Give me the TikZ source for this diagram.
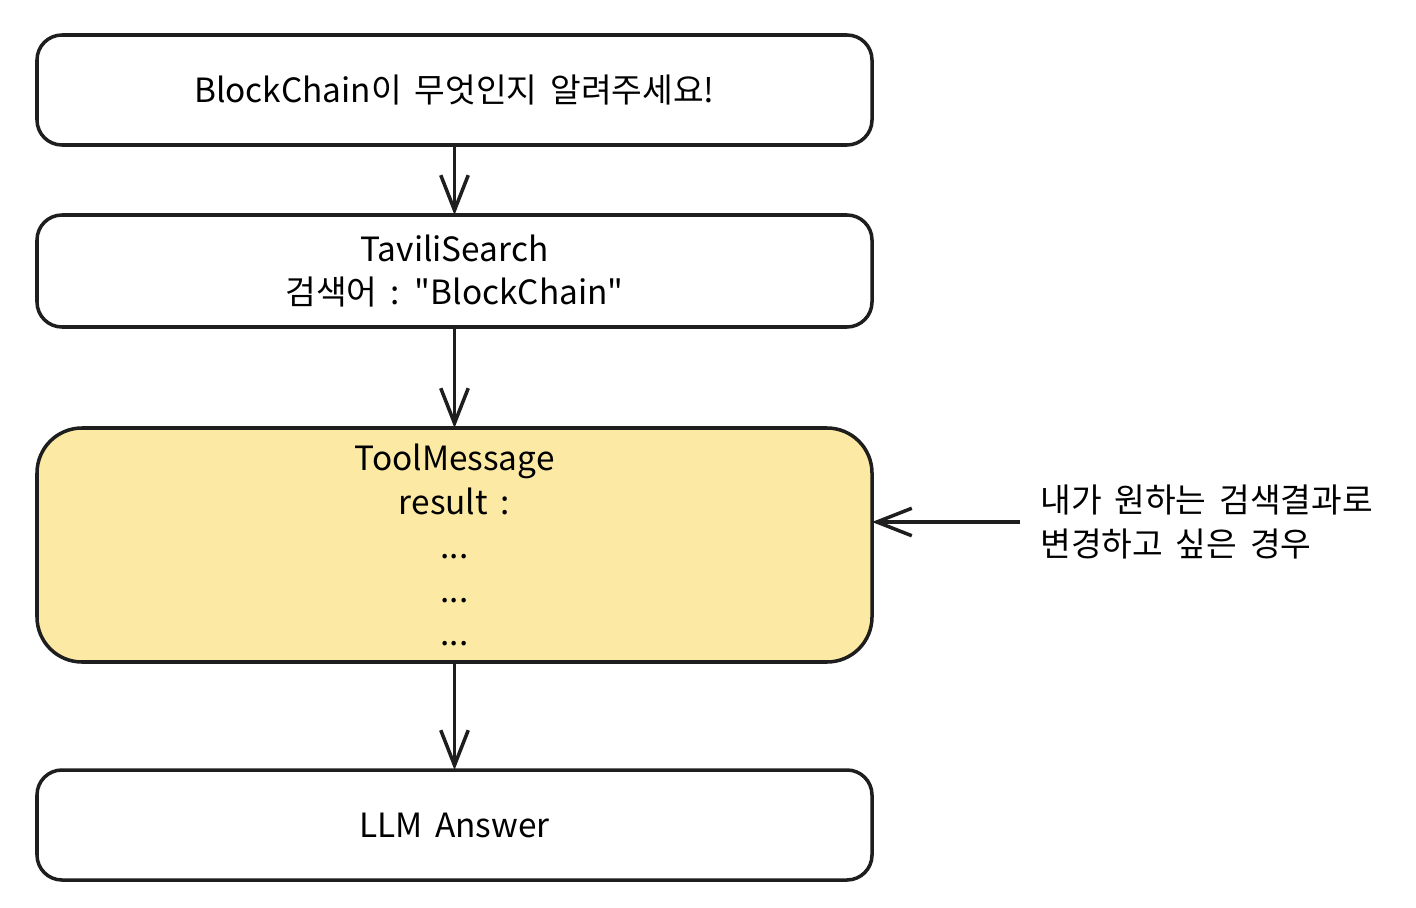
\documentclass[tikz,border=0pt]{standalone}
\usepackage{fontspec}
\setmainfont[WordSpace=1.7]{Noto Sans CJK KR}
\usetikzlibrary{arrows.meta,positioning}
\definecolor{toolfill}{HTML}{FBE9A4}
\definecolor{inkline}{HTML}{1E1E1E}

\tikzset{
  stepbox/.style={draw=inkline,line width=2pt,rounded corners=0.5cm,
    minimum width=16.7cm,align=center,outer sep=0pt,
    font=\fontsize{19}{25}\selectfont},
  flow/.style={draw=inkline,line width=2pt,
    -{Straight Barb[length=0.7cm,width=0.55cm,line width=2pt]}}
}

\begin{document}
\begin{tikzpicture}
\useasboundingbox (0,0) rectangle (28.32,-18.16);

\node[stepbox,minimum height=2.2cm] (ask) at (9.09,-1.8) {BlockChain이 무엇인지 알려주세요!};
\node[stepbox,minimum height=2.24cm,below=1.4cm of ask] (search) {TaviliSearch\\검색어 : \textquotedbl BlockChain\textquotedbl};
\node[stepbox,minimum height=4.68cm,below=2.02cm of search,fill=toolfill,rounded corners=0.9cm] (toolmsg)
  {ToolMessage\\result :\\...\\...\\...};
\node[stepbox,minimum height=2.2cm,below=2.16cm of toolmsg] (answer) {LLM Answer};

\draw[flow] (ask) -- (search);
\draw[flow] (search) -- (toolmsg);
\draw[flow] (toolmsg) -- (answer);

\node[anchor=west,align=left,inner sep=0pt,font=\fontsize{19}{25}\selectfont] (note) at (20.8,-10.44)
  {내가 원하는 검색결과로\\변경하고 싶은 경우};
\coordinate (tail) at ([xshift=-0.4cm]note.west);
\draw[flow] (tail) -- (tail -| toolmsg.east);

\end{tikzpicture}
\end{document}
